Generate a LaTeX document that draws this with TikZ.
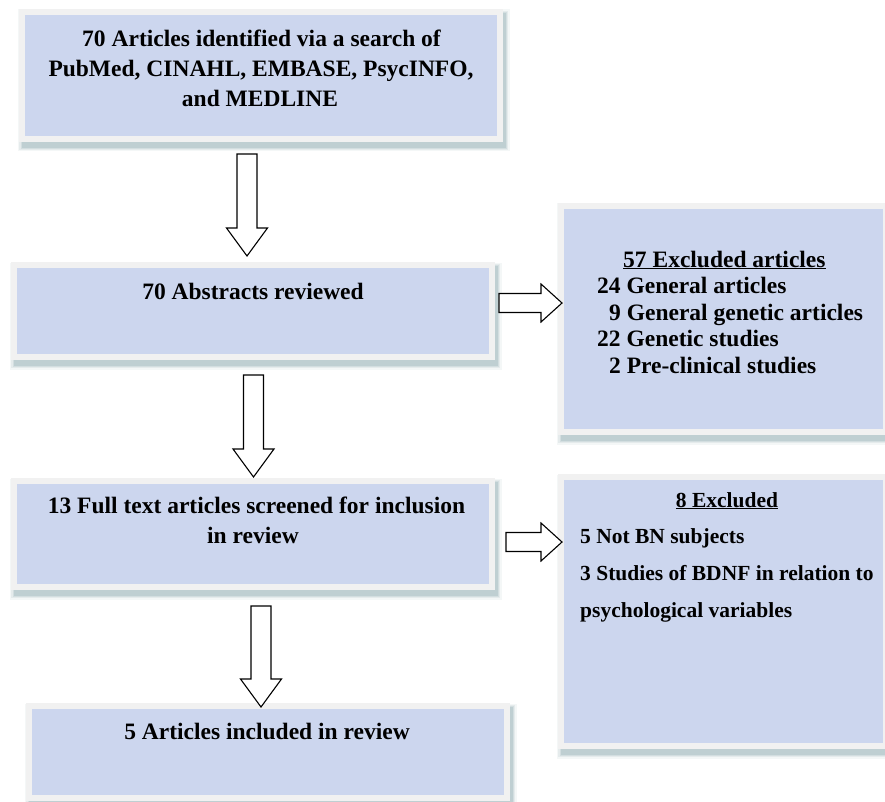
\documentclass[tikz,border=0pt]{standalone}
\usepackage{fontspec}
\setmainfont{Liberation Serif}
\usetikzlibrary{calc}
\definecolor{innerc}{HTML}{CCD6EE}
\definecolor{framec}{HTML}{F1F1F1}
\definecolor{shadowc}{HTML}{7A9CA2}
\tikzset{
  innerbox/.style={fill=innerc, draw=none, inner sep=0pt, outer sep=0pt, rectangle},
  blockarrow/.style={draw=black, fill=white, line width=1.1pt, line join=miter},
  txt/.style={font=\bfseries\fontsize{23.5}{28}\selectfont, inner sep=0pt, anchor=base},
  txtsm/.style={font=\bfseries\fontsize{21.5}{26}\selectfont, inner sep=0pt, anchor=base},
}
% name, inner x0, y0, x1, y1
\newcommand\flowbox[5]{%
  \foreach \r/\op in {4.5/0.08,3.2/0.12,2/0.16,0.8/0.22}{%
    \fill[shadowc, opacity=\op] (#2-6-\r+3.5, #3-6-\r+5) rectangle (#4+6+\r+2, #5+6+\r+5);
  }
  \fill[framec] (#2-6,#3-6) rectangle (#4+6,#5+6);
  \node[innerbox, anchor=north west, minimum width={#4-#2}, minimum height={#5-#3}] (#1) at (#2,#3) {};
}
% x, ytop, yhead, ytip
\newcommand\downblock[4]{%
  \draw[blockarrow] (#1-10,#2) -- (#1+10,#2) -- (#1+10,#3) -- (#1+20.5,#3) -- (#1,#4) -- (#1-20.5,#3) -- (#1-10,#3) -- cycle;
}
% xstart, xhead, xtip, ycenter
\newcommand\rightblock[4]{%
  \draw[blockarrow] (#1,#4-9.5) -- (#2,#4-9.5) -- (#2,#4-19) -- (#3,#4) -- (#2,#4+19) -- (#2,#4+9.5) -- (#1,#4+9.5) -- cycle;
}
\begin{document}
\begin{tikzpicture}[x=1pt,y=-1pt]
\useasboundingbox (0,0) rectangle (885,802);
\clip (0,0) rectangle (885,802);
\fill[white] (0,0) rectangle (885,802);

% boxes
\flowbox{b1}{25}{15}{497}{136}
\flowbox{b2}{17}{268}{489}{354}
\flowbox{b3}{564}{209}{883}{429}
\flowbox{b4}{17}{484}{489}{584}
\flowbox{b5}{32}{709}{504}{795}
\flowbox{b6}{564}{480}{883}{743}

% arrows
\downblock{247}{154}{228}{256}
\downblock{253.5}{375}{449}{477}
\downblock{261}{606}{679}{707}
\rightblock{499}{541}{562}{303}
\rightblock{506}{541}{562}{542}

% texts box 1
\node[txt] (t1a) at (261.5,46.5) {70 Articles identified via a search of};
\node[txt] (t1b) at (261,77) {PubMed, CINAHL, EMBASE, PsycINFO,};
\node[txt] (t1c) at (260,107) {and MEDLINE};
% box 2
\node[txt] (t2) at (253,299) {70 Abstracts reviewed};
% box 3
\node[txt, anchor=base west] (t3a) at (623,267) {\underline{57 Excluded articles}};
\node[txt, anchor=base west] (t3b) at (597,293.5) {24 General articles};
\node[txt, anchor=base west] (t3c) at (609,320) {9 General genetic articles};
\node[txt, anchor=base west] (t3d) at (597,346.5) {22 Genetic studies};
\node[txt, anchor=base west] (t3e) at (609,373) {2 Pre-clinical studies};
% box 4
\node[txt] (t4a) at (256.5,513) {13 Full text articles screened for inclusion};
\node[txt] (t4b) at (253,543) {in review};
% box 5
\node[txt] (t5) at (267,739) {5 Articles included in review};
% box 6
\node[txtsm] (t6a) at (727,507) {\underline{8 Excluded}};
\node[txtsm, anchor=base west] (t6b) at (580,543.5) {5 Not BN subjects};
\node[txtsm, anchor=base west] (t6c) at (580,580.5) {3 Studies of BDNF in relation to};
\node[txtsm, anchor=base west] (t6d) at (580,617) {psychological variables};
\end{tikzpicture}
\end{document}
